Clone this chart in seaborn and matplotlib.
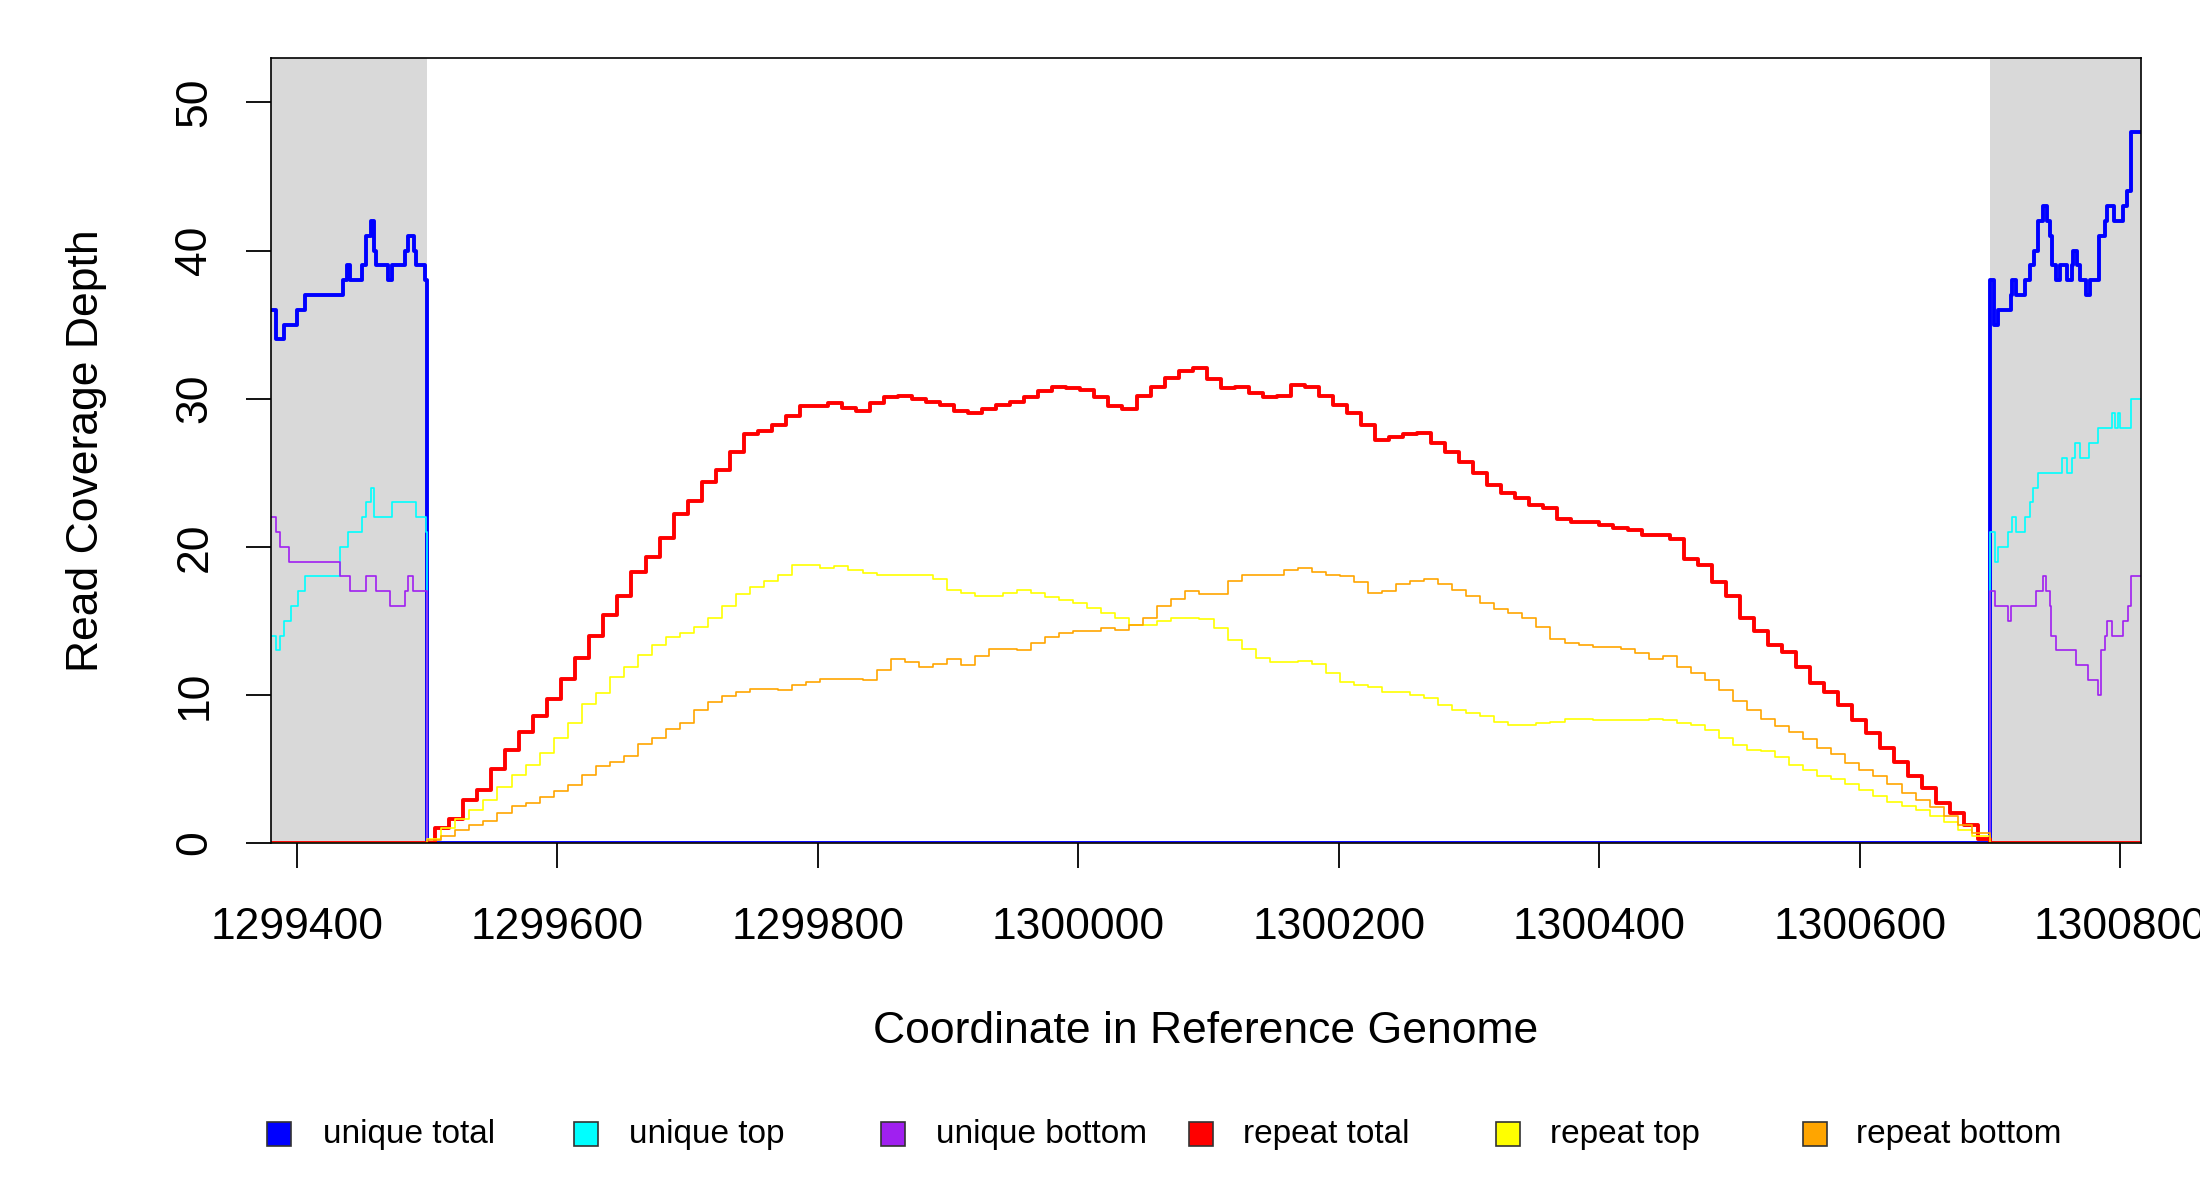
import numpy as np
import matplotlib
matplotlib.use("Agg")
import matplotlib.pyplot as plt
from matplotlib.patches import Rectangle
import seaborn as sns

# genome window and flanking (unique) regions
x_start, x_end = 1299380, 1300816
rep_start, rep_end = 1299500, 1300700

# unique coverage, left flank (step start positions and depth)
ut_left_pos = [1299380, 1299384, 1299390, 1299400, 1299406, 1299435, 1299438, 1299441, 1299450, 1299453,
               1299457, 1299459, 1299461, 1299470, 1299473, 1299483, 1299485, 1299490, 1299491, 1299498]
ut_left_val = [36, 34, 35, 36, 37, 38, 39, 38, 39, 41, 42, 40, 39, 38, 39, 40, 41, 40, 39, 38]
utop_left_pos = [1299380, 1299384, 1299387, 1299390, 1299395, 1299401, 1299406, 1299433, 1299439, 1299450,
                 1299453, 1299457, 1299459, 1299473, 1299491, 1299499]
utop_left_val = [14, 13, 14, 15, 16, 17, 18, 20, 21, 22, 23, 24, 22, 23, 22, 21]
ubot_left_pos = [1299380, 1299384, 1299387, 1299394, 1299433, 1299441, 1299453, 1299461, 1299471, 1299483,
                 1299485, 1299489]
ubot_left_val = [22, 21, 20, 19, 18, 17, 18, 17, 16, 17, 18, 17]

# unique coverage, right flank
ut_right_pos = [1300700, 1300703, 1300706, 1300716, 1300717, 1300720, 1300727, 1300731, 1300734, 1300737,
                1300741, 1300744, 1300746, 1300748, 1300751, 1300754, 1300759, 1300763, 1300764, 1300767,
                1300769, 1300774, 1300777, 1300784, 1300788, 1300790, 1300795, 1300802, 1300805, 1300808]
ut_right_val = [38, 35, 36, 37, 38, 37, 38, 39, 40, 42, 43, 42, 41, 39, 38, 39, 38, 39, 40, 39,
                38, 37, 38, 41, 42, 43, 42, 43, 44, 48]
utop_right_pos = [1300700, 1300704, 1300706, 1300714, 1300717, 1300720, 1300727, 1300731, 1300733, 1300737,
                  1300755, 1300759, 1300763, 1300765, 1300769, 1300776, 1300783, 1300794, 1300796, 1300798,
                  1300800, 1300808]
utop_right_val = [21, 19, 20, 21, 22, 21, 22, 23, 24, 25, 26, 25, 26, 27, 26, 27, 28, 29, 28, 29, 28, 30]
ubot_right_pos = [1300700, 1300704, 1300714, 1300716, 1300735, 1300741, 1300743, 1300746, 1300747, 1300751,
                  1300766, 1300775, 1300783, 1300785, 1300788, 1300790, 1300794, 1300802, 1300806, 1300808]
ubot_right_val = [17, 16, 15, 16, 17, 18, 17, 16, 14, 13, 12, 11, 10, 13, 14, 15, 14, 15, 16, 18]

# repeat coverage (read about every 11 bp across the repeat)
rep_total = [1.0, 1.6, 2.9, 3.6, 5.0, 6.3, 7.5, 8.6, 9.7, 11.1, 12.5, 14.0, 15.4, 16.7, 18.3, 19.3, 20.6,
             22.2, 23.1, 24.4, 25.2, 26.4, 27.6, 27.8, 28.2, 28.8, 29.5, 29.5, 29.7, 29.4, 29.2, 29.7, 30.1,
             30.2, 30.0, 29.8, 29.6, 29.2, 29.0, 29.3, 29.6, 29.8, 30.1, 30.5, 30.8, 30.7, 30.6, 30.1, 29.5,
             29.3, 30.2, 30.8, 31.4, 31.9, 32.1, 31.3, 30.7, 30.8, 30.4, 30.1, 30.2, 30.9, 30.8, 30.2, 29.6,
             29.0, 28.2, 27.2, 27.4, 27.6, 27.7, 27.0, 26.4, 25.7, 25.0, 24.2, 23.6, 23.3, 22.8, 22.6, 21.9,
             21.7, 21.7, 21.5, 21.3, 21.1, 20.8, 20.8, 20.5, 19.2, 18.8, 17.6, 16.7, 15.2, 14.3, 13.4, 12.9,
             11.9, 10.8, 10.2, 9.3, 8.3, 7.4, 6.4, 5.5, 4.5, 3.7, 2.7, 2.0, 1.2, 0.3]
rep_top = [0.3, 1.0, 1.6, 2.2, 2.9, 3.8, 4.6, 5.3, 6.1, 7.1, 8.1, 9.4, 10.1, 11.2, 11.9, 12.7, 13.4, 13.9,
           14.2, 14.6, 15.2, 16.0, 16.8, 17.3, 17.7, 18.1, 18.8, 18.8, 18.6, 18.7, 18.4, 18.2, 18.1, 18.1,
           18.1, 18.1, 17.8, 17.1, 16.9, 16.7, 16.7, 16.9, 17.1, 16.9, 16.6, 16.4, 16.2, 15.9, 15.5, 15.2,
           14.7, 14.7, 15.0, 15.2, 15.2, 15.1, 14.5, 13.7, 13.1, 12.5, 12.2, 12.2, 12.3, 12.1, 11.5, 10.9,
           10.7, 10.5, 10.2, 10.2, 10.0, 9.8, 9.3, 9.0, 8.8, 8.6, 8.2, 8.0, 8.0, 8.1, 8.2, 8.4, 8.4, 8.3,
           8.3, 8.3, 8.3, 8.4, 8.3, 8.1, 8.0, 7.6, 7.1, 6.6, 6.3, 6.2, 5.8, 5.3, 4.9, 4.5, 4.3, 4.0, 3.6,
           3.2, 2.8, 2.5, 2.2, 1.8, 1.4, 0.9, 0.5]
rep_bottom = [0.2, 0.5, 0.9, 1.2, 1.5, 2.0, 2.5, 2.7, 3.1, 3.5, 3.9, 4.6, 5.2, 5.5, 5.9, 6.7, 7.1, 7.7,
              8.1, 9.0, 9.5, 9.9, 10.2, 10.4, 10.4, 10.3, 10.7, 10.9, 11.1, 11.1, 11.1, 11.0, 11.7, 12.4,
              12.2, 11.9, 12.1, 12.4, 12.0, 12.6, 13.1, 13.1, 13.0, 13.5, 13.9, 14.2, 14.3, 14.3, 14.5,
              14.4, 14.7, 15.2, 16.0, 16.5, 17.0, 16.8, 16.8, 17.7, 18.1, 18.1, 18.1, 18.4, 18.6, 18.3,
              18.1, 18.0, 17.6, 16.9, 17.0, 17.5, 17.7, 17.8, 17.5, 17.1, 16.7, 16.2, 15.8, 15.5, 15.2,
              14.6, 13.8, 13.5, 13.4, 13.2, 13.2, 13.1, 12.8, 12.4, 12.6, 11.9, 11.5, 11.0, 10.3, 9.6,
              9.0, 8.4, 7.9, 7.5, 7.0, 6.4, 6.0, 5.4, 4.9, 4.5, 4.0, 3.4, 2.9, 2.4, 1.8, 1.2, 0.7]
rep_total_pos = np.linspace(1299506, 1300691, len(rep_total))
rep_strand_pos = np.linspace(1299500, 1300686, len(rep_top))

labels = ["unique total", "unique top", "unique bottom", "repeat total", "repeat top", "repeat bottom"]
colors = ["#0000FF", "#00FFFF", "#A020F0", "#FF0000", "#FFFF00", "#FFA500"]
widths = [2.8, 1.2, 1.2, 2.8, 1.2, 1.2]


def unique_series(lp, lv, rp, rv):
    pos = list(lp) + [rep_start] + list(rp) + [x_end]
    val = list(lv) + [0] + list(rv) + [rv[-1]]
    return pos, val


def repeat_series(p, v):
    pos = [x_start] + list(p) + [rep_end, x_end]
    val = [0] + list(v) + [0, 0]
    return pos, val


series = [
    unique_series(ut_left_pos, ut_left_val, ut_right_pos, ut_right_val),
    unique_series(utop_left_pos, utop_left_val, utop_right_pos, utop_right_val),
    unique_series(ubot_left_pos, ubot_left_val, ubot_right_pos, ubot_right_val),
    repeat_series(rep_total_pos, rep_total),
    repeat_series(rep_strand_pos, rep_top),
    repeat_series(rep_strand_pos, rep_bottom),
]

sns.set_style("white")
plt.rcParams['font.family'] = ['Liberation Sans', 'DejaVu Sans']
plt.rcParams['text.color'] = 'black'
plt.rcParams['axes.labelcolor'] = 'black'

W, H = 2200, 1200
fig = plt.figure(figsize=(22, 12), dpi=100)
ax = fig.add_axes([271 / W, 357 / H, 1870 / W, 785 / H])

# grey shading over the unique flanks
ax.axvspan(x_start, rep_start, color="#D9D9D9", lw=0, zorder=0)
ax.axvspan(rep_end, x_end, color="#D9D9D9", lw=0, zorder=0)

for (pos, val), c, lw in zip(series, colors, widths):
    sns.lineplot(x=pos, y=val, ax=ax, color=c, linewidth=lw, drawstyle="steps-post",
                 estimator=None, sort=False, legend=False)

ax.set_xlim(x_start, x_end)
ax.set_ylim(0, 53)
xt = list(range(1299400, 1300801, 200))
ax.set_xticks(xt)
ax.set_xticklabels([str(v) for v in xt])
ax.set_yticks([0, 10, 20, 30, 40, 50])
ax.tick_params(axis="both", direction="out", length=18, width=1.3, labelsize=32,
               colors="black", bottom=True, left=True, top=False, right=False)
ax.tick_params(axis="x", pad=28)
ax.tick_params(axis="y", pad=22)
for lbl in ax.get_yticklabels():
    lbl.set_rotation(90)
    lbl.set_va("center")

for sp in ax.spines.values():
    sp.set_visible(True)
    sp.set_color("black")
    sp.set_linewidth(1.2)

ax.set_xlabel("Coordinate in Reference Genome", fontsize=32, color="black")
ax.set_ylabel("Read Coverage Depth", fontsize=32, color="black")
ax.xaxis.label.set_va("center")
ax.yaxis.label.set_va("center")
ax.xaxis.set_label_coords(0.5, -0.2395)
ax.yaxis.set_label_coords(-0.0984, 0.5)

# legend row under the plot, evenly spaced like the original
box_x = [279, 586, 893, 1201, 1508, 1815]
text_x = [323, 629, 936, 1243, 1550, 1856]
ly = 1134
for bx, tx, lab, c in zip(box_x, text_x, labels, colors):
    fig.add_artist(Rectangle(((bx - 12) / W, (H - ly - 12) / H), 24 / W, 24 / H,
                             transform=fig.transFigure, facecolor=c, edgecolor="#333333", lw=1.2))
    fig.text(tx / W, (H - ly) / H, lab, fontsize=24, va="center", ha="left", color="black")

fig.savefig("out.png", dpi=100)
